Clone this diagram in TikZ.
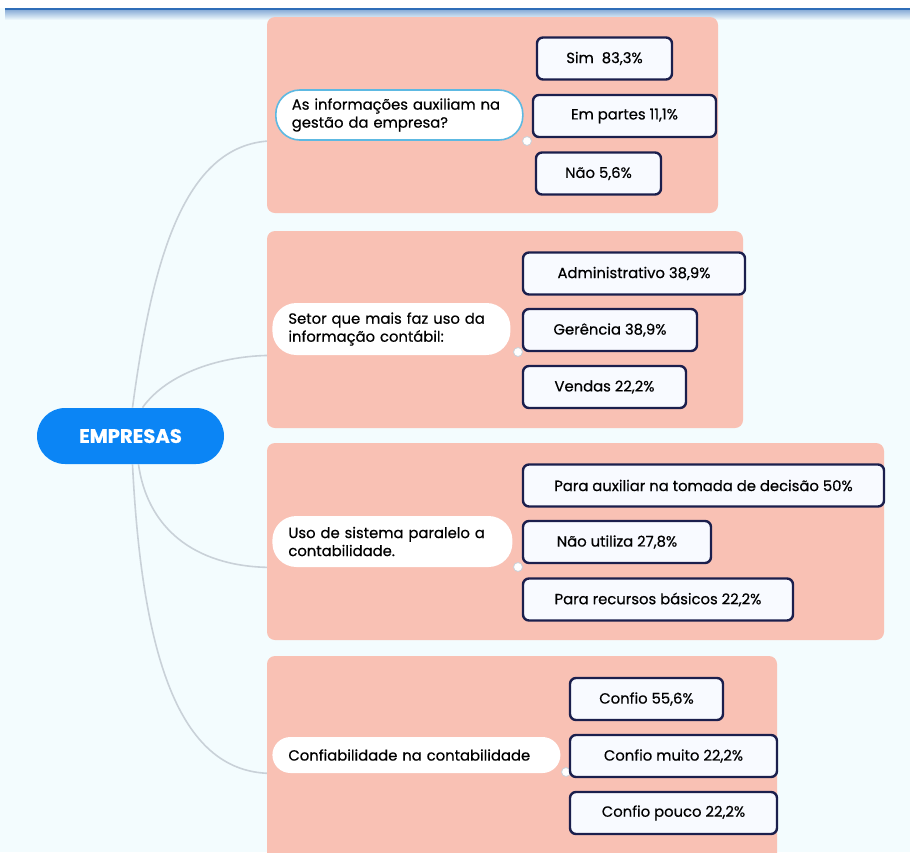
\documentclass[tikz,border=0pt]{standalone}
\usepackage{fontspec}
\setmainfont{Poppins}[Ligatures=NoCommon, FakeBold=0.5]
\definecolor{pagebg}{HTML}{F3FCFE}
\definecolor{topline}{HTML}{2F6DB8}
\definecolor{panelpink}{HTML}{F9C1B4}
\definecolor{rootblue}{HTML}{0B85F5}
\definecolor{leafnavy}{HTML}{1B1F4D}
\definecolor{leaffill}{HTML}{F8FAFF}
\definecolor{linkgray}{HTML}{C9D1D8}
\definecolor{selcyan}{HTML}{5DB9E2}
\pgfdeclarelayer{back}
\pgfdeclarelayer{lines}
\pgfdeclarelayer{panels}
\pgfsetlayers{back,lines,panels,main}

\begin{document}
\begin{tikzpicture}[x=0.5pt,y=-0.5pt,
    panel/.style={fill=panelpink, rounded corners=4pt},
    root/.style={fill=rootblue, text=white, rounded corners=14pt,
        minimum width=93.5pt, minimum height=28pt,
        font=\fontsize{9.8}{11}\selectfont\bfseries},
    topic/.style={fill=white, rounded corners=12pt, anchor=west, align=left,
        inner xsep=8pt, font=\fontsize{7.4}{9}\selectfont},
    leaf/.style={fill=leaffill, draw=leafnavy, line width=1.2pt,
        rounded corners=3pt, minimum height=21pt,
        font=\fontsize{7.4}{9}\selectfont},
    link/.style={draw=linkgray, line width=0.8pt},
    knob/.style={circle, fill=white, draw=linkgray, line width=0.4pt,
        inner sep=0pt, minimum size=4.5pt}]

\useasboundingbox (0,0) rectangle (910,852);
\begin{pgfonlayer}{back}
\fill[pagebg] (0,0) rectangle (910,852);
\fill[white] (0,0) rectangle (910,8);
\fill[top color=topline!60, bottom color=pagebg] (5,9) rectangle (910,20);
\draw[topline, line width=1pt] (5,9) -- (910,9);
\end{pgfonlayer}

% main node and topics
\node[root] (empresas) at (130.5,436) {EMPRESAS};

\node[topic, text width=107.5pt, minimum height=25pt, draw=selcyan, line width=0.8pt] (info) at (275,115)
    {As informações auxiliam na\\gestão da empresa?};
\node[topic, text width=103pt, minimum height=26pt] (setor) at (272,329)
    {Setor que mais faz uso da\\informação contábil:};
\node[topic, text width=104pt, minimum height=25.5pt] (paralelo) at (272,541.5)
    {Uso de sistema paralelo a\\contabilidade.};
\node[topic, text width=128pt, minimum height=18pt, rounded corners=9pt] (confia) at (272,755)
    {Confiabilidade na contabilidade};

\node[knob] (d1) at (527,141) {};
\node[knob] (d2) at (518,352) {};
\node[knob] (d3) at (518,567) {};
\node[knob] (d4) at (566,772) {};

\begin{pgfonlayer}{lines}
\draw[link] ([xshift=1pt]empresas.north) .. controls +(20,-150) and +(-90,0) .. (info.south west) -- (d1);
\draw[link] ([xshift=6pt]empresas.north) .. controls +(25,-35) and +(-50,0) .. (setor.south west) -- (d2);
\draw[link] ([xshift=4pt]empresas.south) .. controls +(10,70) and +(-70,0) .. (paralelo.south west) -- (d3);
\draw[link] ([xshift=1pt]empresas.south) .. controls +(10,200) and +(-90,0) .. (confia.south west) -- (d4);
\end{pgfonlayer}

% panels
\begin{pgfonlayer}{panels}
\fill[panel] (267,17) rectangle (718,213);
\fill[panel] (267,231) rectangle (743,428);
\fill[panel] (267,443) rectangle (884,640);
\fill[panel] (267,656) rectangle (777,870);
\end{pgfonlayer}

% answers
\node[leaf, minimum width=67.5pt] (sim) at (604.5,58.5) {Sim~ 83,3\%};
\node[leaf, minimum width=91.5pt] (partes) at (624.5,116) {Em partes 11,1\%};
\node[leaf, minimum width=62.5pt] (nao) at (598.5,173.5) {Não 5,6\%};

\node[leaf, minimum width=111pt] (adm) at (634,273.5) {Administrativo 38,9\%};
\node[leaf, minimum width=87pt] (ger) at (610,330) {Gerência 38,9\%};
\node[leaf, minimum width=81.5pt] (vendas) at (604.5,387) {Vendas 22,2\%};

\node[leaf, minimum width=180.5pt] (decisao) at (703.5,485.5) {Para auxiliar na tomada de decisão 50\%};
\node[leaf, minimum width=94pt] (naoutil) at (617,542) {Não utiliza 27,8\%};
\node[leaf, minimum width=135pt] (basicos) at (658,599.5) {Para recursos básicos 22,2\%};

\node[leaf, minimum width=76.5pt] (confio) at (646.5,699) {Confio 55,6\%};
\node[leaf, minimum width=103.5pt] (muito) at (673.5,756) {Confio muito 22,2\%};
\node[leaf, minimum width=103.5pt] (pouco) at (673.5,813) {Confio pouco 22,2\%};
\end{tikzpicture}
\end{document}
